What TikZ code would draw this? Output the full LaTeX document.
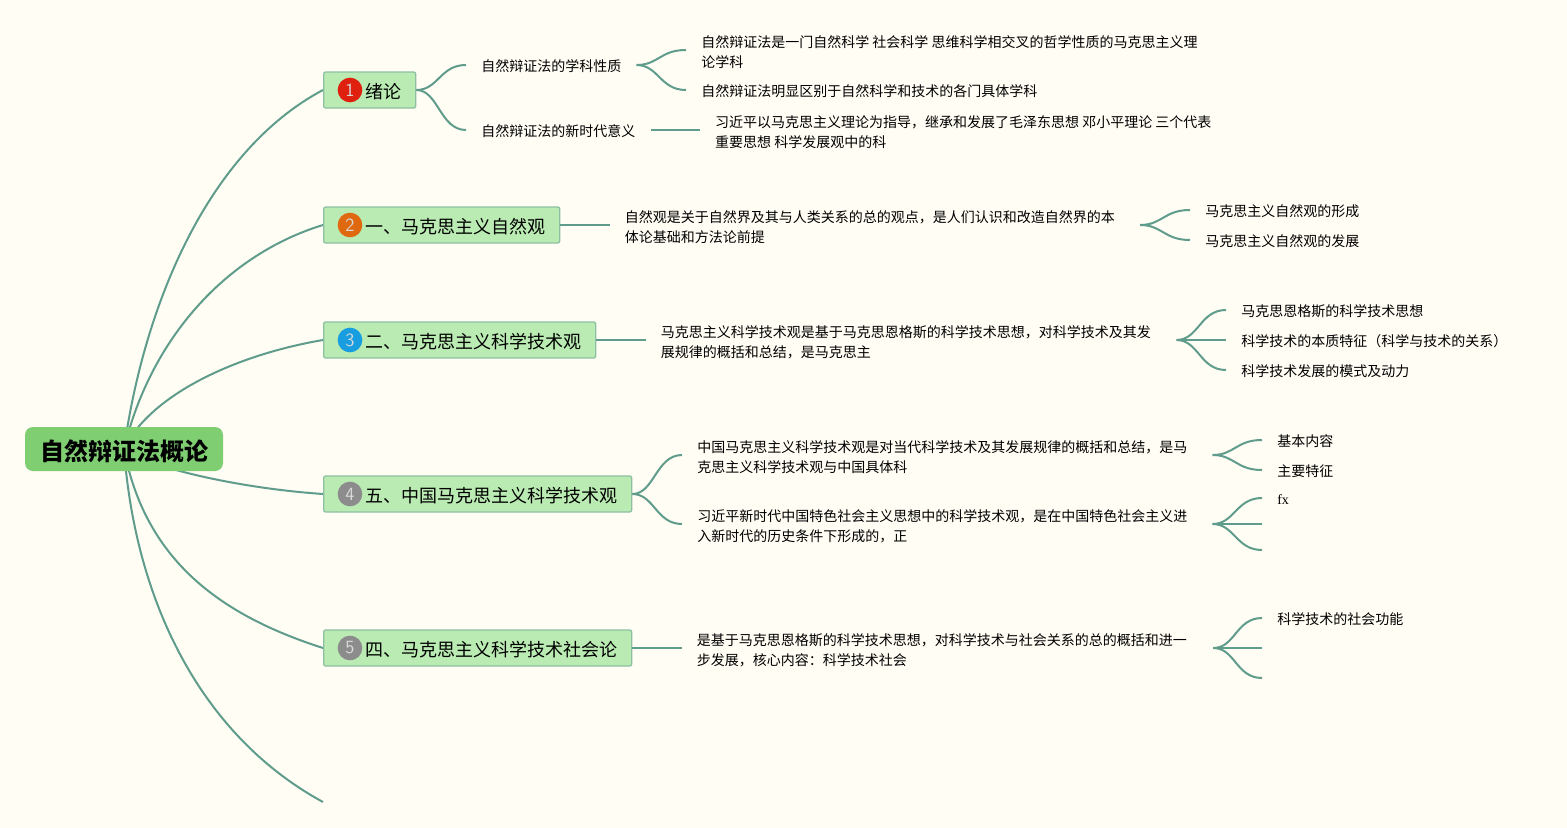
\documentclass[tikz,border=0pt]{standalone}
\usepackage{fontspec}
\setmainfont{Liberation Serif}
\newfontfamily\cjk{Noto Sans CJK SC}
\usetikzlibrary{positioning,backgrounds}
\definecolor{paper}{HTML}{FFFDF4}
\definecolor{linkc}{HTML}{5F9C8C}
\definecolor{branchc}{HTML}{BAEBB2}
\definecolor{edgec}{HTML}{8DC0A2}
\definecolor{rootc}{HTML}{80CE72}
\definecolor{onec}{HTML}{E0200F}
\definecolor{twoc}{HTML}{E0690F}
\definecolor{threec}{HTML}{189DE0}
\definecolor{greyc}{HTML}{8C8C8C}
\tikzset{
  root/.style = {fill=rootc, rounded corners=6pt, minimum width=148.5pt, minimum height=33pt, inner sep=0pt, font=\cjk\fontsize{18}{20}\bfseries\selectfont, execute at begin node={\rule{0pt}{20pt}}, execute at end node={\rule[-2.6pt]{0pt}{0pt}}},
  branch/.style = {draw=edgec, fill=branchc, line width=1pt, rounded corners=1.5pt, anchor=west, minimum height=27pt, inner ysep=0pt, inner xsep=0pt, align=left, font=\cjk\fontsize{13.5}{16}\selectfont, execute at begin node={\rule{0pt}{15.5pt}}, execute at end node={\rule[-2.5pt]{0pt}{0pt}}},
  badge/.style = {circle, minimum size=18.5pt, inner sep=0pt, text=white!85!black, font=\sffamily\fontsize{14}{14}\selectfont},
  leaf/.style = {anchor=west, inner xsep=11.25pt, inner ysep=0pt, align=left, font=\cjk\fontsize{10.5}{15}\selectfont, execute at begin node={\rule{0pt}{12.4pt}}, execute at end node={\rule[-2pt]{0pt}{0pt}}},
  wide/.style = {leaf, text width=#1, align=flush left, execute at begin node={\rule{0pt}{13.6pt}}},
  link/.style = {draw=linkc, line width=1.5pt},
  fork/.style = {link, to path={.. controls +(22,0) and +(-26,0) .. (\tikztotarget)}}
}
\begin{document}
\begin{tikzpicture}[x=0.75pt, y=-0.75pt]
\begin{scope}[on background layer]
  \fill[paper] (0,0) rectangle (1567,828);
\end{scope}
% root and main branches
\node[root] (r) at (124,449) {自然辩证法概论};
\node[branch] (b1) at (323,90) {\hspace{31.5pt}绪论\hspace{10.5pt}};
\node[branch] (b2) at (323,225) {\hspace{31.5pt}一、马克思主义自然观\hspace{10.5pt}};
\node[branch] (b3) at (323,340) {\hspace{31.5pt}二、马克思主义科学技术观\hspace{10.5pt}};
\node[branch] (b4) at (323,494) {\hspace{31.5pt}五、中国马克思主义科学技术观\hspace{10.5pt}};
\node[branch] (b5) at (323,648) {\hspace{31.5pt}四、马克思主义科学技术社会论\hspace{10.5pt}};
\coordinate (b6) at (323,802);
\node[badge, fill=onec] (n1) at (350,90) {1};
\node[badge, fill=twoc] (n2) at (350,225) {2};
\node[badge, fill=threec] (n3) at (350,340) {3};
\node[badge, fill=greyc] (n4) at (350,494) {4};
\node[badge, fill=greyc] (n5) at (350,648) {5};

% first branch
\node[leaf] (a1) at (466,65) {自然辩证法的学科性质};
\node[leaf] (a2) at (466,130) {自然辩证法的新时代意义};
\node[wide=375pt] (a3) at (686,50) {自然辩证法是一门自然科学 社会科学 思维科学相交叉的哲学性质的马克思主义理\\论学科};
\node[leaf] (a4) at (686,90) {自然辩证法明显区别于自然科学和技术的各门具体学科};
\node[wide=375pt] (a5) [right=37pt of a2] {习近平以马克思主义理论为指导，继承和发展了毛泽东思想 邓小平理论 三个代表\\重要思想 科学发展观中的科};

% second branch
\node[wide=375pt] (c1) [right=37pt of b2] {自然观是关于自然界及其与人类关系的总的观点，是人们认识和改造自然界的本\\体论基础和方法论前提};
\node[leaf] (c2) at (1190,210) {马克思主义自然观的形成};
\node[leaf] (c3) at (1190,240) {马克思主义自然观的发展};

% third branch
\node[wide=375.25pt] (d1) [right=37pt of b3] {马克思主义科学技术观是基于马克思恩格斯的科学技术思想，对科学技术及其发\\展规律的概括和总结，是马克思主};
\node[leaf] (d2) at (1226,310) {马克思恩格斯的科学技术思想};
\node[leaf] (d3) at (1226,340) {科学技术的本质特征（科学与技术的关系）};
\node[leaf] (d4) at (1226,370) {科学技术发展的模式及动力};

% fourth branch
\node[wide=375pt] (e1) at (682,455) {中国马克思主义科学技术观是对当代科学技术及其发展规律的概括和总结，是马\\克思主义科学技术观与中国具体科};
\node[wide=375pt] (e2) at (682,524) {习近平新时代中国特色社会主义思想中的科学技术观，是在中国特色社会主义进\\入新时代的历史条件下形成的，正};
\node[leaf] (e3) at (1262,440) {基本内容};
\node[leaf] (e4) at (1262,470) {主要特征};
\node[leaf, font=\rmfamily\fontsize{10.5}{15}\selectfont] (e5) at (1262,498) {fx};
\coordinate (e6) at (1262,524);
\coordinate (e7) at (1262,550);

% fifth branch
\node[wide=375.75pt] (f1) [right=37pt of b5] {是基于马克思恩格斯的科学技术思想，对科学技术与社会关系的总的概括和进一\\步发展，核心内容：科学技术社会};
\node[leaf] (f2) at (1262,618) {科学技术的社会功能};
\coordinate (f3) at (1262,648);
\coordinate (f4) at (1262,678);

\begin{scope}[on background layer]
  \draw[link] (r.center) .. controls (145,300) and (210,150) .. (b1.west);
  \draw[link] (r.center) .. controls (150,340) and (225,255) .. (b2.west);
  \draw[link] (r.center) .. controls (150,395) and (235,355) .. (b3.west);
  \draw[link] (r.center) .. controls (145,466) and (235,488) .. (b4.west);
  \draw[link] (r.center) .. controls (145,560) and (220,615) .. (b5.west);
  \draw[link] (r.center) .. controls (135,600) and (200,735) .. (b6);
\end{scope}

\draw (b1.east) [fork] to (a1.west);
\draw (b1.east) [fork] to (a2.west);
\draw (a1.east) [fork] to (a3.west);
\draw (a1.east) [fork] to (a4.west);
\draw[link] (a2) -- (a5);
\draw[link] (b2) -- (c1);
\draw (c1.east) [fork] to (c2.west);
\draw (c1.east) [fork] to (c3.west);
\draw[link] (b3) -- (d1);
\draw (d1.east) [fork] to (d2.west);
\draw[link] (d1) -- (d3);
\draw (d1.east) [fork] to (d4.west);
\draw (b4.east) [fork] to (e1.west);
\draw (b4.east) [fork] to (e2.west);
\draw (e1.east) [fork] to (e3.west);
\draw (e1.east) [fork] to (e4.west);
\draw (e2.east) [fork] to (e5.west);
\draw[link] (e2.east) -- (e6);
\draw (e2.east) [fork] to (e7);
\draw[link] (b5) -- (f1);
\draw (f1.east) [fork] to (f2.west);
\draw[link] (f1.east) -- (f3);
\draw (f1.east) [fork] to (f4);
\end{tikzpicture}
\end{document}
